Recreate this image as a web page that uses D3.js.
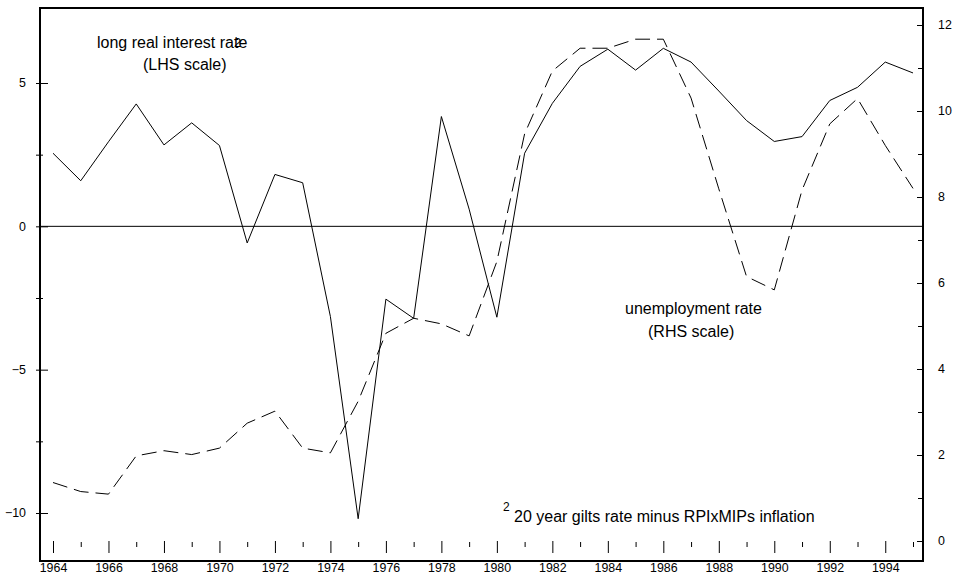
<!DOCTYPE html>
<html>
<head>
<meta charset="utf-8">
<script src="https://cdn.jsdelivr.net/npm/d3@7/dist/d3.min.js"></script>
<style>
  html, body { margin: 0; padding: 0; background: #fff; }
  svg { display: block; }
  text { font-family: "Liberation Sans", Arial, sans-serif; fill: #000; }
</style>
</head>
<body>
<svg id="chart" width="955" height="574"></svg>
<script>
const years = d3.range(1964, 1996);
const realRate = [2.55, 1.59, 2.95, 4.27, 2.84, 3.61, 2.82, -0.58, 1.81, 1.52,
  -3.15, -10.2, -2.54, -3.21, 3.83, 0.6, -3.17, 2.55, 4.29, 5.58,
  6.18, 5.45, 6.21, 5.73, 4.72, 3.69, 2.96, 3.13, 4.39, 4.85, 5.73, 5.35];
const unemployment = [1.36, 1.15, 1.09, 1.98, 2.10, 2.01, 2.16, 2.74, 3.02, 2.16,
  2.05, 3.25, 4.83, 5.18, 5.05, 4.77, 6.5, 9.47, 10.93, 11.46,
  11.46, 11.67, 11.67, 10.3, 8.19, 6.15, 5.84, 8.16, 9.7, 10.29, 9.2, 8.2];
const leftTicks = [-10, -5, 0, 5];
const leftMinor = [-7.5, -2.5, 2.5];
const rightTicks = [0, 2, 4, 6, 8, 10, 12];
const rightMinor = [1, 3, 5, 7, 9, 11];
const xMajor = d3.range(1964, 1996, 2);
const xMinor = d3.range(1965, 1996, 2);

const svg = d3.select("#chart");
const frame = {left: 40, right: 923, top: 8, bottom: 561};
const tickFont = "12.4px";

const x = d3.scaleLinear().domain([1964, 1995]).range([53, 913]);
const yL = d3.scaleLinear().domain([-10, 5]).range([513, 83]);
const yR = d3.scaleLinear().domain([0, 12]).range([541, 25]);

// zero line
svg.append("line")
  .attr("x1", frame.left).attr("x2", frame.right)
  .attr("y1", yL(0)).attr("y2", yL(0))
  .attr("stroke", "#000").attr("stroke-width", 1);

// left axis
const gL = svg.append("g").attr("transform", `translate(${frame.left},0)`);
gL.call(d3.axisLeft(yL).tickValues(leftTicks).tickSize(0).tickPadding(14).tickFormat(d3.format("d")));
gL.select(".domain").remove();
gL.selectAll(".tick line").attr("x1", -4).attr("x2", 8).attr("stroke", "#000");
gL.selectAll("text").style("font-size", tickFont).style("font-family", '"Liberation Sans", Arial, sans-serif');
const gLm = svg.append("g").attr("transform", `translate(${frame.left},0)`);
gLm.call(d3.axisLeft(yL).tickValues(leftMinor).tickSize(0).tickFormat(""));
gLm.select(".domain").remove();
gLm.selectAll(".tick line").attr("x1", -4).attr("x2", 3).attr("stroke", "#000");

// right axis
const gR = svg.append("g").attr("transform", `translate(${frame.right},0)`);
gR.call(d3.axisRight(yR).tickValues(rightTicks).tickSize(0).tickPadding(15).tickFormat(d3.format("d")));
gR.select(".domain").remove();
gR.selectAll(".tick line").attr("x1", -6).attr("x2", 0).attr("stroke", "#000");
gR.selectAll("text").style("font-size", tickFont).style("font-family", '"Liberation Sans", Arial, sans-serif');
const gRm = svg.append("g").attr("transform", `translate(${frame.right},0)`);
gRm.call(d3.axisRight(yR).tickValues(rightMinor).tickSize(0).tickFormat(""));
gRm.select(".domain").remove();
gRm.selectAll(".tick line").attr("x1", -5).attr("x2", 0).attr("stroke", "#000");

// bottom axis (ticks float inside plot)
const gX = svg.append("g").attr("transform", `translate(0,${yR(0)})`);
gX.call(d3.axisBottom(x).tickValues(xMajor).tickSize(12).tickPadding(10).tickFormat(d3.format("d")));
gX.select(".domain").remove();
gX.selectAll(".tick line").attr("stroke", "#000");
gX.selectAll("text").style("font-size", tickFont).style("font-family", '"Liberation Sans", Arial, sans-serif');
const gXm = svg.append("g").attr("transform", `translate(0,${yR(0) + 1})`);
gXm.call(d3.axisBottom(x).tickValues(xMinor).tickSize(5).tickFormat(""));
gXm.select(".domain").remove();
gXm.selectAll(".tick line").attr("stroke", "#000");

// lines
const lineL = d3.line().x((d, i) => x(years[i])).y(d => yL(d));
const lineR = d3.line().x((d, i) => x(years[i])).y(d => yR(d));
svg.append("path").datum(realRate).attr("d", lineL)
  .attr("fill", "none").attr("stroke", "#000").attr("stroke-width", 1);
svg.append("path").datum(unemployment).attr("d", lineR)
  .attr("fill", "none").attr("stroke", "#000").attr("stroke-width", 1)
  .attr("stroke-dasharray", "15,7");

// frame
svg.append("rect")
  .attr("x", frame.left).attr("y", frame.top)
  .attr("width", frame.right - frame.left).attr("height", frame.bottom - frame.top)
  .attr("fill", "none").attr("stroke", "#000").attr("stroke-width", 2);

// annotations
const ann = svg.append("g").style("font-size", "16px");
ann.append("text").attr("x", 97).attr("y", 48).text("long real interest rate");
ann.append("text").attr("x", 234).attr("y", 47).style("font-size", "13px").text("2");
ann.append("text").attr("x", 143).attr("y", 70).text("(LHS scale)");
ann.append("text").attr("x", 625).attr("y", 314).text("unemployment rate");
ann.append("text").attr("x", 648).attr("y", 337).text("(RHS scale)");
ann.append("text").attr("x", 503).attr("y", 511).style("font-size", "12px").text("2");
ann.append("text").attr("x", 514).attr("y", 522).text("20 year gilts rate minus RPIxMIPs inflation");
</script>
</body>
</html>
